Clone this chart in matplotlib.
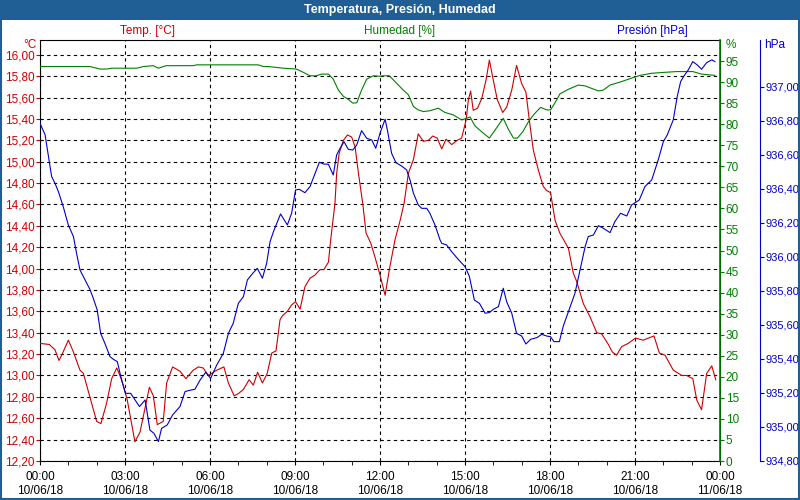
import matplotlib
matplotlib.use("Agg")
import matplotlib.pyplot as plt
import matplotlib.patches as mpatches
from matplotlib.ticker import FuncFormatter, MultipleLocator

# datos (horas desde 10/06/18 00:00)
temp_h = [0.0, 0.33, 0.53, 0.67, 0.8, 1.0, 1.18, 1.41, 1.53, 1.76, 2.0, 2.15, 2.35, 2.53, 2.71, 2.88,
          3.08, 3.35, 3.53, 3.67, 3.86, 4.0, 4.14, 4.35, 4.47, 4.68, 4.94, 5.15, 5.41, 5.59, 5.76, 5.94,
          6.06, 6.24, 6.49, 6.65, 6.85, 7.0, 7.18, 7.38, 7.53, 7.68, 7.85, 8.02, 8.18, 8.33, 8.47, 8.56,
          8.73, 8.88, 9.02, 9.18, 9.35, 9.53, 9.71, 9.88, 10.02, 10.18, 10.26, 10.41, 10.47, 10.56, 10.71,
          10.85, 11.0, 11.12, 11.24, 11.39, 11.51, 11.67, 11.82, 12.0, 12.18, 12.33, 12.53, 12.71, 12.85,
          13.0, 13.18, 13.35, 13.53, 13.71, 13.86, 14.02, 14.18, 14.33, 14.53, 14.73, 14.88, 15.04, 15.12,
          15.2, 15.29, 15.44, 15.59, 15.74, 15.86, 16.0, 16.14, 16.33, 16.47, 16.65, 16.82, 17.0, 17.15,
          17.27, 17.41, 17.59, 17.76, 17.88, 18.02, 18.18, 18.35, 18.65, 18.82, 18.94, 19.18, 19.41, 19.65,
          19.82, 20.06, 20.2, 20.35, 20.53, 20.76, 21.02, 21.29, 21.67, 21.86, 22.06, 22.35, 22.65, 22.82,
          23.04, 23.18, 23.35, 23.53, 23.71, 23.85]
temp = [13.30, 13.29, 13.24, 13.14, 13.21, 13.33, 13.22, 13.05, 13.02, 12.80, 12.57, 12.55, 12.74, 12.97, 13.07, 12.96,
        12.77, 12.38, 12.47, 12.65, 12.89, 12.81, 12.54, 12.57, 12.93, 13.08, 13.04, 12.97, 13.05, 13.08, 13.07, 13.00,
        13.02, 13.05, 13.08, 12.93, 12.81, 12.83, 12.87, 12.96, 12.91, 13.03, 12.93, 13.02, 13.21, 13.23, 13.52, 13.56,
        13.60, 13.66, 13.69, 13.62, 13.83, 13.91, 13.94, 13.99, 13.99, 14.06, 14.27, 14.61, 14.89, 15.08, 15.20,
        15.25, 15.23, 15.14, 14.89, 14.61, 14.33, 14.24, 14.11, 13.94, 13.75, 13.99, 14.27, 14.45, 14.61,
        14.89, 15.02, 15.26, 15.19, 15.20, 15.24, 15.22, 15.12, 15.21, 15.16, 15.20, 15.22, 15.39, 15.58,
        15.66, 15.48, 15.50, 15.59, 15.76, 15.95, 15.76, 15.58, 15.46, 15.51, 15.67, 15.90, 15.73, 15.65,
        15.39, 15.11, 14.92, 14.77, 14.73, 14.71, 14.45, 14.33, 14.19, 13.96, 13.88, 13.67, 13.55, 13.40,
        13.39, 13.29, 13.22, 13.19, 13.27, 13.30, 13.35, 13.33, 13.37, 13.21, 13.19, 13.05, 13.00, 13.00,
        12.97, 12.77, 12.68, 13.02, 13.09, 12.96]

hum_h = [0.0, 1.76, 2.12, 2.35, 2.53, 3.41, 3.65, 4.0, 4.18, 4.45, 5.41, 5.53, 6.0, 7.7, 7.88, 8.06,
         8.59, 9.04, 9.24, 9.53, 9.74, 9.94, 10.18, 10.35, 10.53, 10.71, 10.88, 11.04, 11.18, 11.35, 11.53,
         11.76, 12.0, 12.12, 12.33, 12.59, 12.82, 13.0, 13.18, 13.35, 13.53, 13.76, 14.06, 14.29, 14.59,
         14.88, 15.18, 15.35, 15.59, 15.86, 16.06, 16.35, 16.53, 16.71, 16.85, 17.04, 17.24, 17.44, 17.67,
         17.88, 18.02, 18.24, 18.35, 18.65, 19.0, 19.24, 19.47, 19.71, 19.88, 20.12, 20.47, 20.82, 21.18,
         21.59, 22.0, 22.47, 23.04, 23.35, 23.82]
hum = [93.7, 93.7, 93.1, 93.1, 93.3, 93.3, 93.7, 93.9, 93.3, 93.9, 93.9, 94.1, 94.1, 94.1, 93.7, 93.7,
       93.3, 93.1, 92.5, 91.5, 91.5, 91.9, 91.9, 90.7, 88.1, 86.6, 85.9, 85.0, 85.1, 88.1, 90.7,
       91.5, 91.4, 91.5, 91.5, 89.7, 88.1, 87.0, 84.2, 83.4, 83.0, 83.2, 83.8, 82.8, 82.2,
       81.0, 81.7, 79.6, 78.2, 76.7, 78.6, 81.4, 78.8, 76.7, 76.7, 78.2, 80.6, 82.4, 84.0,
       83.4, 83.4, 85.8, 87.2, 88.3, 89.3, 89.1, 88.5, 87.9, 88.1, 89.3, 90.0, 90.8, 91.6,
       92.1, 92.3, 92.5, 92.5, 91.9, 91.6]

pres_h = [0.0, 0.18, 0.29, 0.41, 0.53, 0.65, 0.82, 1.0, 1.18, 1.29, 1.41, 1.59, 1.76, 1.88, 2.02, 2.14,
          2.29, 2.47, 2.59, 2.73, 2.88, 3.02, 3.2, 3.51, 3.71, 3.88, 4.02, 4.18, 4.29, 4.49, 4.68, 4.94,
          5.12, 5.24, 5.47, 5.65, 5.85, 6.02, 6.24, 6.47, 6.65, 6.82, 7.0, 7.18, 7.32, 7.51, 7.67, 7.85,
          8.0, 8.12, 8.24, 8.49, 8.73, 8.88, 9.02, 9.15, 9.35, 9.53, 9.71, 9.86, 10.0, 10.18, 10.35, 10.47,
          10.59, 10.73, 10.88, 11.04, 11.18, 11.35, 11.53, 11.71, 11.85, 12.0, 12.18, 12.26, 12.41, 12.56,
          12.76, 12.94, 13.06, 13.18, 13.35, 13.47, 13.65, 13.76, 13.94, 14.12, 14.18, 14.35, 14.53, 14.76,
          15.0, 15.15, 15.24, 15.33, 15.51, 15.71, 15.86, 16.0, 16.18, 16.35, 16.47, 16.65, 16.82, 17.0,
          17.15, 17.32, 17.53, 17.71, 17.88, 18.02, 18.14, 18.33, 18.47, 18.65, 18.88, 19.06, 19.24, 19.35,
          19.53, 19.71, 19.88, 20.12, 20.29, 20.49, 20.71, 20.88, 21.15, 21.35, 21.59, 21.82, 22.0, 22.14,
          22.35, 22.49, 22.61, 22.73, 22.88, 23.04, 23.2, 23.35, 23.53, 23.71, 23.82]
pres = [936.786, 936.718, 936.600, 936.473, 936.433, 936.384, 936.296, 936.188, 936.120, 936.022, 935.924,
        935.865, 935.810, 935.757, 935.688, 935.551, 935.492, 935.414, 935.398, 935.384, 935.276, 935.198,
        935.198, 935.120, 935.159, 934.982, 934.963, 934.914, 934.992, 935.012, 935.071, 935.120, 935.208,
        935.214, 935.222, 935.276, 935.322, 935.286, 935.365, 935.433, 935.551, 935.610, 935.727, 935.767,
        935.865, 935.904, 935.933, 935.875, 935.963, 936.090, 936.149, 936.253, 936.188, 936.257, 936.394,
        936.398, 936.378, 936.414, 936.492, 936.557, 936.547, 936.545, 936.482, 936.600, 936.639, 936.678,
        936.633, 936.629, 936.659, 936.743, 936.698, 936.688, 936.639, 936.727, 936.810, 936.747, 936.610,
        936.555, 936.535, 936.512, 936.453, 936.375, 936.306, 936.286, 936.286, 936.257, 936.188, 936.100,
        936.080, 936.071, 936.031, 935.986, 935.943, 935.888, 935.816, 935.747, 935.727, 935.669, 935.673,
        935.692, 935.708, 935.816, 935.737, 935.669, 935.551, 935.535, 935.488, 935.516, 935.525, 935.545,
        935.535, 935.531, 935.502, 935.502, 935.594, 935.678, 935.786, 935.924, 936.061, 936.120, 936.129,
        936.184, 936.169, 936.143, 936.208, 936.257, 936.241, 936.306, 936.335, 936.414, 936.453, 936.571,
        936.678, 936.718, 936.806, 936.943, 937.031, 937.065, 937.100, 937.149, 937.129, 937.104, 937.143,
        937.159, 937.149]

x_labels = ["00:00\n10/06/18", "03:00\n10/06/18", "06:00\n10/06/18", "09:00\n10/06/18", "12:00\n10/06/18",
            "15:00\n10/06/18", "18:00\n10/06/18", "21:00\n10/06/18", "00:00\n11/06/18"]

ROJO = "#cc0000"
VERDE = "#008000"
AZUL = "#0000cc"
BARRA = "#1f5f96"

plt.rcParams['font.family'] = ['Liberation Sans', 'DejaVu Sans']
plt.rcParams['font.size'] = 8.5

fig = plt.figure(figsize=(8, 5), dpi=100)
fig.patch.set_facecolor('white')

# barra del titulo y marco
fig.add_artist(mpatches.Rectangle((0, 0.96), 1, 0.04, transform=fig.transFigure,
                                  facecolor=BARRA, edgecolor='none'))
fig.add_artist(mpatches.Rectangle((0.001, 0.002), 0.998, 0.996, transform=fig.transFigure,
                                  facecolor='none', edgecolor=BARRA, linewidth=1.5))
fig.text(0.5, 0.979, "Temperatura, Presión, Humedad", color='white', fontweight='bold',
         ha='center', va='center', fontsize=9)

ax = fig.add_axes([0.05, 0.078, 0.85, 0.842])
ax_h = ax.twinx()
ax_p = ax.twinx()

# temperatura
ax.plot(temp_h, temp, color=ROJO, linewidth=0.8, zorder=3)
ax.set_xlim(0, 24)
ax.set_ylim(12.2, 16.138)
ax.yaxis.set_major_locator(MultipleLocator(0.2))
ax.yaxis.set_major_formatter(FuncFormatter(lambda v, p: f"{v:.2f}".replace('.', ',')))
ax.tick_params(axis='y', colors=ROJO, labelsize=8.5, length=3, pad=1)
ax.set_xticks(range(0, 25, 3))
ax.set_xticklabels(x_labels)
ax.xaxis.set_minor_locator(MultipleLocator(1))
ax.tick_params(axis='x', which='both', length=3, labelsize=8.5, pad=4)
ax.grid(True, which='major', color='black', linestyle=(0, (3, 3)), linewidth=0.8)

# humedad
ax_h.plot(hum_h, hum, color=VERDE, linewidth=0.8)
ax_h.set_ylim(0, 100)
ax_h.set_yticks(range(0, 100, 5))
ax_h.tick_params(axis='y', colors=VERDE, labelsize=8.5, length=3, pad=1)
ax_h.spines['right'].set_color(VERDE)
ax_h.spines['right'].set_linewidth(1.2)

# presion
ax_p.plot(pres_h, pres, color=AZUL, linewidth=0.8)
ax_p.set_ylim(934.8, 937.276)
ax_p.set_yticks([934.8 + 0.2 * i for i in range(12)])
ax_p.yaxis.set_major_formatter(FuncFormatter(lambda v, p: f"{v:.2f}".replace('.', ',')))
ax_p.spines['right'].set_position(('axes', 1.0595))
ax_p.spines['right'].set_color(AZUL)
ax_p.tick_params(axis='y', colors=AZUL, labelsize=8, length=3, pad=0.5)
for a in (ax_h, ax_p):
    a.spines['top'].set_visible(False)
    a.spines['left'].set_visible(False)
    a.spines['bottom'].set_visible(False)

# rotulos de las series y unidades
fig.text(148 / 800, 1 - 31 / 500, "Temp. [°C]", color=ROJO, ha='center', va='center')
fig.text(400 / 800, 1 - 31 / 500, "Humedad [%]", color=VERDE, ha='center', va='center')
fig.text(652 / 800, 1 - 31 / 500, "Presión [hPa]", color=AZUL, ha='center', va='center')
fig.text(37 / 800, 1 - 45 / 500, "°C", color=ROJO, ha='right', va='center')
fig.text(726 / 800, 1 - 45 / 500, "%", color=VERDE, ha='left', va='center')
fig.text(764 / 800, 1 - 45 / 500, "hPa", color=AZUL, ha='left', va='center')

fig.savefig('out.png', dpi=100, facecolor='white')
